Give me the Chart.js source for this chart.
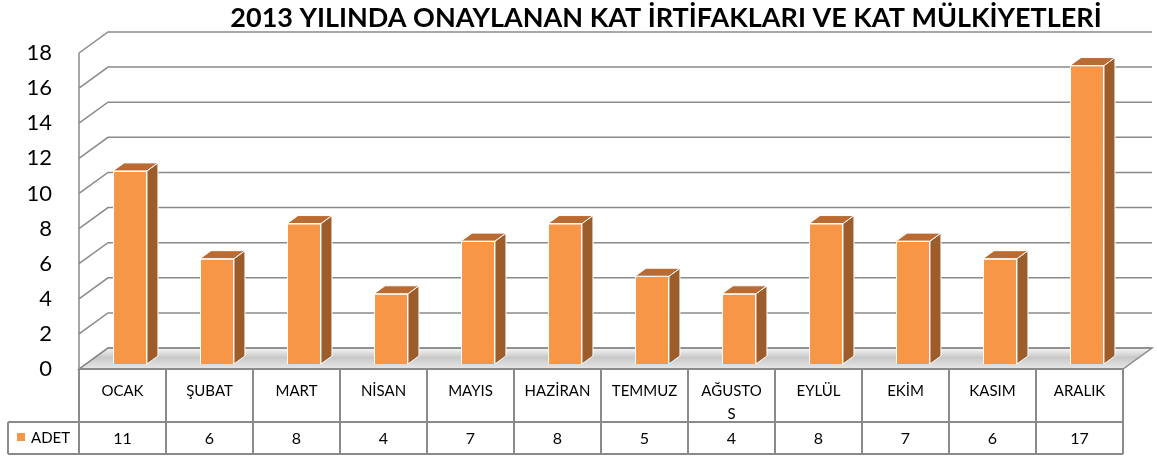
<!DOCTYPE html>
<html>
<head>
<meta charset="utf-8">
<script src="https://cdn.jsdelivr.net/npm/chart.js@4/dist/chart.umd.min.js"></script>
<style>
  html, body { margin: 0; padding: 0; background: #fff; }
  #wrap { width: 1157px; height: 459px; }
</style>
</head>
<body>
<div id="wrap"><canvas id="myChart" width="1157" height="459"></canvas></div>
<script>
const chartTitle = '2013 YILINDA ONAYLANAN KAT İRTİFAKLARI VE KAT MÜLKİYETLERİ';
const seriesName = 'ADET';
const months = ['OCAK', 'ŞUBAT', 'MART', 'NİSAN', 'MAYIS', 'HAZİRAN', 'TEMMUZ', ['AĞUSTO', 'S'], 'EYLÜL', 'EKİM', 'KASIM', 'ARALIK'];
const adet = [11, 6, 8, 4, 7, 8, 5, 4, 8, 7, 6, 17];
const yTicks = [0, 2, 4, 6, 8, 10, 12, 14, 16, 18];

const orange = '#F79646';
const gridGray = '#8a8a8a';
const fontName = 'Lato, "Open Sans", sans-serif';

// depth of the back wall and of the boxes
const wallDX = 29, wallDY = -21;
const barDX = 7.5, barDY = -5;
const boxDX = 11, boxDY = -8;

const threeD = {
  id: 'threeD',
  beforeDatasetsDraw(chart) {
    const ctx = chart.ctx;
    const x = chart.scales.x, y = chart.scales.y;
    const left = x.left, right = x.right;
    const y0 = y.getPixelForValue(0);

    // floor
    ctx.save();
    const g = ctx.createLinearGradient(0, y0 + wallDY, 0, y0);
    g.addColorStop(0, '#f6f6f6');
    g.addColorStop(0.45, '#c8c8c8');
    g.addColorStop(1, '#e8e8e8');
    ctx.fillStyle = g;
    ctx.beginPath();
    ctx.moveTo(left, y0);
    ctx.lineTo(left + wallDX, y0 + wallDY);
    ctx.lineTo(right + wallDX, y0 + wallDY);
    ctx.lineTo(right, y0);
    ctx.closePath();
    ctx.fill();
    ctx.strokeStyle = gridGray;
    ctx.lineWidth = 1.5;
    ctx.stroke();

    // left wall + back wall grid
    ctx.beginPath();
    ctx.moveTo(left, y.getPixelForValue(18));
    ctx.lineTo(left, y0);
    yTicks.forEach(v => {
      const py = y.getPixelForValue(v);
      ctx.moveTo(left, py);
      ctx.lineTo(left + wallDX, py + wallDY);
      ctx.lineTo(right + wallDX, py + wallDY);
    });
    ctx.stroke();
    ctx.restore();

    ctx.save();
    ctx.translate(barDX, barDY);
  },
  afterDatasetsDraw(chart) {
    const ctx = chart.ctx;
    ctx.restore();
    const meta = chart.getDatasetMeta(0);
    ctx.save();
    ctx.strokeStyle = '#ffffff';
    ctx.lineWidth = 1;
    meta.data.forEach(bar => {
      const p = bar.getProps(['x', 'y', 'base', 'width']);
      const l = p.x - p.width / 2 + barDX;
      const r = p.x + p.width / 2 + barDX;
      const t = p.y + barDY;
      const b = p.base + barDY;
      // side
      ctx.fillStyle = '#9D5D2A';
      ctx.beginPath();
      ctx.moveTo(r, t);
      ctx.lineTo(r + boxDX, t + boxDY);
      ctx.lineTo(r + boxDX, b + boxDY);
      ctx.lineTo(r, b);
      ctx.closePath();
      ctx.fill();
      ctx.stroke();
      // top
      ctx.fillStyle = '#BB6B31';
      ctx.beginPath();
      ctx.moveTo(l, t);
      ctx.lineTo(l + boxDX, t + boxDY);
      ctx.lineTo(r + boxDX, t + boxDY);
      ctx.lineTo(r, t);
      ctx.closePath();
      ctx.fill();
      ctx.stroke();
    });
    ctx.restore();
  },
  afterDraw(chart) {
    const ctx = chart.ctx;
    const x = chart.scales.x, y = chart.scales.y;
    const left = x.left, right = x.right;
    const colW = (right - left) / months.length;
    const top = y.getPixelForValue(0);
    const mid = top + 53;
    const bottom = mid + 32;
    const legLeft = 8;

    ctx.save();
    ctx.strokeStyle = gridGray;
    ctx.lineWidth = 2;
    ctx.beginPath();
    ctx.moveTo(left, top); ctx.lineTo(right, top);
    ctx.moveTo(legLeft, mid); ctx.lineTo(right, mid);
    ctx.moveTo(legLeft, bottom); ctx.lineTo(right, bottom);
    ctx.moveTo(legLeft, mid); ctx.lineTo(legLeft, bottom);
    for (let i = 0; i <= months.length; i++) {
      const px = left + i * colW;
      ctx.moveTo(px, top); ctx.lineTo(px, bottom);
    }
    ctx.stroke();

    ctx.fillStyle = '#000';
    ctx.textAlign = 'center';
    ctx.textBaseline = 'middle';
    ctx.font = '15px ' + fontName;
    months.forEach((m, i) => {
      const cx = x.getPixelForValue(i);
      const lines = Array.isArray(m) ? m : [m];
      lines.forEach((s, k) => ctx.fillText(s, cx, top + 22 + k * 23));
    });
    ctx.font = '16px ' + fontName;
    adet.forEach((v, i) => {
      ctx.fillText(String(v), x.getPixelForValue(i), mid + 17);
    });

    // legend key
    ctx.fillStyle = orange;
    ctx.fillRect(17, mid + 11, 8, 8);
    ctx.fillStyle = '#000';
    ctx.textAlign = 'left';
    ctx.font = '15px ' + fontName;
    ctx.fillText(seriesName, 31, mid + 16);

    // title
    ctx.textAlign = 'center';
    ctx.font = 'bold 27px ' + fontName;
    ctx.fillText(chartTitle, 666, 18);
    ctx.restore();
  }
};

new Chart(document.getElementById('myChart'), {
  type: 'bar',
  data: {
    labels: months,
    datasets: [{
      label: seriesName,
      data: adet,
      backgroundColor: orange,
      borderColor: '#ffffff',
      borderWidth: 1,
      barPercentage: 0.39,
      categoryPercentage: 1.0,
      clip: false
    }]
  },
  options: {
    responsive: false,
    animation: false,
    layout: { padding: { top: 53, bottom: 90, left: 0, right: 34 } },
    plugins: {
      legend: { display: false },
      tooltip: { enabled: false },
      title: { display: false }
    },
    scales: {
      x: { display: false },
      y: {
        min: 0,
        max: 18,
        afterFit: scale => { scale.width = 79; },
        grid: { display: false, drawTicks: false },
        border: { display: false },
        ticks: {
          stepSize: 2,
          padding: 27,
          color: '#000',
          font: { family: fontName, size: 22 }
        }
      }
    }
  },
  plugins: [threeD]
});
</script>
</body>
</html>
